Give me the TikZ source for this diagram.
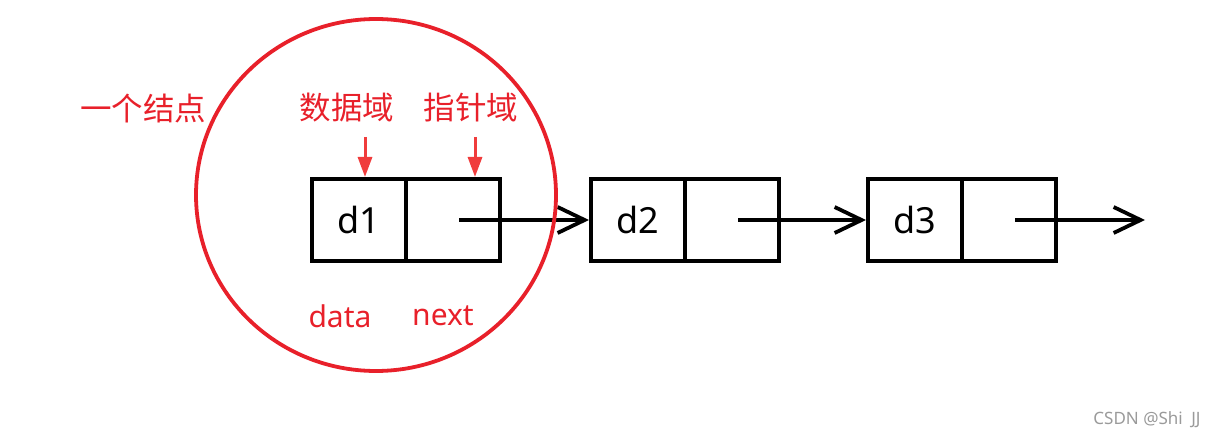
\documentclass[tikz,border=0pt]{standalone}
\usepackage{fontspec}
\setmainfont{Noto Sans}
\newfontfamily\cjk{Noto Sans CJK SC}
\usetikzlibrary{arrows.meta,shapes.geometric}
\definecolor{myred}{HTML}{E8202A}
\definecolor{arrred}{HTML}{F03C3C}
\definecolor{wm}{HTML}{9A9A9A}
\begin{document}
\begin{tikzpicture}[x=1pt,y=-1pt,
  cell/.style={draw=black,line width=4pt,minimum width=94pt,minimum height=82pt,inner sep=0pt,
    font=\fontsize{36}{38}\selectfont},
  link/.style={draw=black,line width=3.5pt,-{Straight Barb[length=27pt,width=26pt,line width=3.8pt]}},
  redlab/.style={text=myred,inner sep=0pt,font=\cjk\fontsize{31.5}{33}\selectfont},
  redlat/.style={text=myred,inner sep=0pt,font=\fontsize{30}{32}\selectfont},
  redarrow/.style={draw=arrred,line width=3pt,-{Triangle[length=20pt,width=14pt]}}]
\useasboundingbox (0,0) rectangle (1221,441);
% cells
\node[cell] (d1) at (359,220) {d1};
\node[cell] (p1) at (453,220) {};
\node[cell] (d2) at (638,220) {d2};
\node[cell] (p2) at (732,220) {};
\node[cell] (d3) at (915,220) {d3};
\node[cell] (p3) at (1009,220) {};
\coordinate (end) at (1145,220);
% links
\draw[link] ([xshift=6pt]p1.center) -- (d2.west);
\draw[link] ([xshift=6pt]p2.center) -- (d3.west);
\draw[link] ([xshift=6pt]p3.center) -- (end);
% red circle
\node[ellipse,draw=myred,line width=3.8pt,minimum width=360pt,minimum height=352pt] (circ) at (376,195) {};
% labels
\node[redlab] (node) at (143,108) {一个结点};
\node[redlab] (dlab) at (347,108) {数据域};
\node[redlab] (plab) at (471,108) {指针域};
\node[redlat] (data) at (340,316) {data};
\node[redlat] (next) at (443,316) {next};
\coordinate (a1) at (365,137);
\coordinate (a2) at (475,137);
\draw[redarrow] (a1) -- (a1 |- d1.north);
\draw[redarrow] (a2) -- (a2 |- p1.north);
% watermark
\node[text=wm,inner sep=0pt,font=\fontsize{17}{19}\selectfont] (wmk) at (1147,420) {CSDN @Shi\hspace{0.5em}JJ};
\end{tikzpicture}
\end{document}
